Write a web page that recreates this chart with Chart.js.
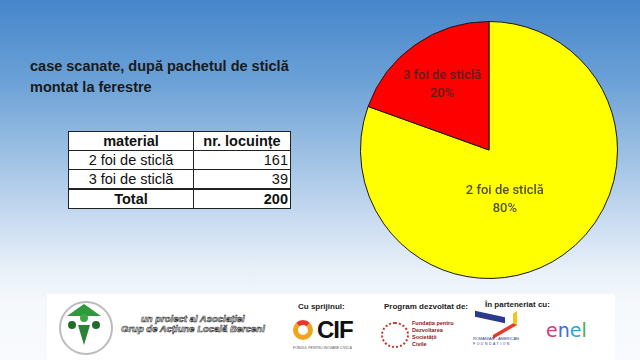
<!DOCTYPE html>
<html>
<head>
<meta charset="utf-8">
<script src="https://cdn.jsdelivr.net/npm/chart.js@4/dist/chart.umd.min.js"></script>
<style>
  html, body { margin:0; padding:0; }
  body { width:640px; height:360px; overflow:hidden; position:relative;
    background: linear-gradient(to bottom, #4686cb 0%, #6aa0d6 22%, #9bbfe3 42%, #c6daf0 60%, #e8f0f9 75%, #f6f9fc 85%, #f8fafd 100%);
    font-family: "Liberation Sans", Arial, sans-serif; }
  #title { position:absolute; left:30px; top:56px; font-weight:bold; font-size:14.5px; line-height:21px; color:#1a1a1a; }
  table { position:absolute; left:68px; top:131px; border-collapse:collapse; background:#fff; font-size:14.5px; color:#111; }
  td { border:1px solid #222; height:18px; padding:0 2px; line-height:18px; }
  td.c1 { width:120px; text-align:center; }
  td.c2 { width:92px; text-align:right; }
  tr.h td { font-weight:bold; text-align:center; }
  tr.t td { font-weight:bold; border-top:2px solid #222; }
  #pieWrap { position:absolute; left:360px; top:21px; width:258px; height:258px; }
  #footer { position:absolute; left:47px; top:294px; width:568px; height:66px; background:#fff; }
  .small { position:absolute; font-size:8px; font-weight:bold; color:#222; }
</style>
</head>
<body>
<div id="title">case scanate, după pachetul de sticlă<br>montat la ferestre</div>
<table id="tbl"></table>
<div id="pieWrap"><canvas id="pie" width="258" height="258"></canvas></div>
<div id="footer">
  <div style="position:absolute;left:12px;top:7px;width:50px;height:50px;border-radius:50%;border:2px solid #bbb;background:#fff;"></div>
  <div style="position:absolute;left:20px;top:10px;width:0;height:0;border-left:17px solid transparent;border-right:17px solid transparent;border-bottom:12px solid #2e9a3c;"></div>
  <div style="position:absolute;left:21px;top:27px;width:8px;height:8px;border-radius:50%;background:#1e6e2a;"></div>
  <div style="position:absolute;left:33px;top:20px;width:8px;height:8px;border-radius:50%;background:#3aa84a;"></div>
  <div style="position:absolute;left:45px;top:27px;width:8px;height:8px;border-radius:50%;background:#1e6e2a;"></div>
  <div style="position:absolute;left:31px;top:31px;width:0;height:0;border-left:6px solid transparent;border-right:6px solid transparent;border-top:20px solid #2a8236;"></div>
  <div style="position:absolute;left:74px;top:20px;font-size:9.5px;font-style:italic;font-weight:bold;color:#fff;-webkit-text-stroke:0.6px #333;text-align:center;line-height:10px;">un proiect al Asociației<br>Grup de Acțiune Locală Berceni</div>
  <div class="small" style="left:251px;top:8px;">Cu sprijinul:</div>
  <div style="position:absolute;left:246px;top:26px;width:20px;height:20px;border-radius:50%;border:5px solid #f2a51a;border-top-color:#e8372c;box-sizing:border-box;"></div>
  <div style="position:absolute;left:270px;top:22px;font-size:24px;font-weight:bold;color:#111;letter-spacing:-1px;">CIF</div>
  <div style="position:absolute;left:246px;top:52px;font-size:3.5px;color:#555;">FONDUL PENTRU INOVARE CIVICĂ</div>
  <div class="small" style="left:337px;top:8px;">Program dezvoltat de:</div>
  <div style="position:absolute;left:334px;top:28px;width:24px;height:22px;border-radius:50%;border:2px dotted #c0392b;"></div>
  <div style="position:absolute;left:365px;top:26px;font-size:5.5px;line-height:7px;color:#8b1a1a;font-weight:bold;">Fundația pentru<br>Dezvoltarea<br>Societății<br>Civile</div>
  <div class="small" style="left:438px;top:6px;">În parteneriat cu:</div>
  <div style="position:absolute;left:428px;top:20px;width:30px;height:6px;background:#2b3a8c;transform:skewY(12deg);"></div>
  <div style="position:absolute;left:446px;top:24px;width:20px;height:10px;border-bottom:4px solid #e8372c;border-right:4px solid #f2c51a;transform:skewY(-30deg);"></div>
  <div style="position:absolute;left:426px;top:42px;font-size:4px;color:#2b3a8c;">ROMANIAN - AMERICAN</div>
  <div style="position:absolute;left:426px;top:48px;font-size:3.5px;color:#2b3a8c;letter-spacing:1.5px;">FOUNDATION</div>
  <div style="position:absolute;left:499px;top:25px;font-size:19px;color:#2b6cd4;font-family:'DejaVu Sans',sans-serif;"><span style="color:#d23a7a">e</span><span style="color:#3a6fd8">n</span><span style="color:#2aa5d8">e</span><span style="color:#4aaa4a">l</span></div>
</div>
<script>
const categories = ["2 foi de sticlă", "3 foi de sticlă"];
const counts = [161, 39];
const percentLabels = ["80%", "20%"];
const tableHeader = ["material", "nr. locuințe"];
const totalLabel = "Total";

// table
const tbl = document.getElementById('tbl');
let html = '<tr class="h"><td class="c1">' + tableHeader[0] + '</td><td class="c2" style="text-align:center">' + tableHeader[1] + '</td></tr>';
categories.forEach((c, i) => { html += '<tr><td class="c1">' + c + '</td><td class="c2">' + counts[i] + '</td></tr>'; });
html += '<tr class="t"><td class="c1">' + totalLabel + '</td><td class="c2">' + counts.reduce((a, b) => a + b, 0) + '</td></tr>';
tbl.innerHTML = html;

const labelPlugin = {
  id: 'sliceLabels',
  afterDatasetsDraw(chart) {
    const ctx = chart.ctx;
    const meta = chart.getDatasetMeta(0);
    const factors = [0.40, 0.63];
    const angleShift = [0.3, 0];
    ctx.save();
    ctx.font = '500 13px Roboto';
    ctx.fillStyle = 'rgba(40,40,40,0.8)';
    ctx.textAlign = 'center';
    ctx.textBaseline = 'middle';
    meta.data.forEach((arc, i) => {
      const p = arc.getProps(['x', 'y', 'startAngle', 'endAngle', 'outerRadius'], true);
      const mid = (p.startAngle + p.endAngle) / 2 + angleShift[i];
      const r = p.outerRadius * factors[i];
      const x = p.x + Math.cos(mid) * r;
      const y = p.y + Math.sin(mid) * r;
      ctx.fillText(categories[i], x, y - 8);
      ctx.fillText(percentLabels[i], x, y + 10);
    });
    ctx.restore();
  }
};

new Chart(document.getElementById('pie'), {
  type: 'pie',
  data: {
    labels: categories,
    datasets: [{
      data: counts,
      backgroundColor: ['#ffff00', '#ff0000'],
      borderColor: '#1a1a1a',
      borderWidth: 1
    }]
  },
  options: {
    responsive: false,
    animation: false,
    layout: { padding: 0 },
    plugins: { legend: { display: false }, tooltip: { enabled: false } }
  },
  plugins: [labelPlugin]
});
</script>
</body>
</html>
